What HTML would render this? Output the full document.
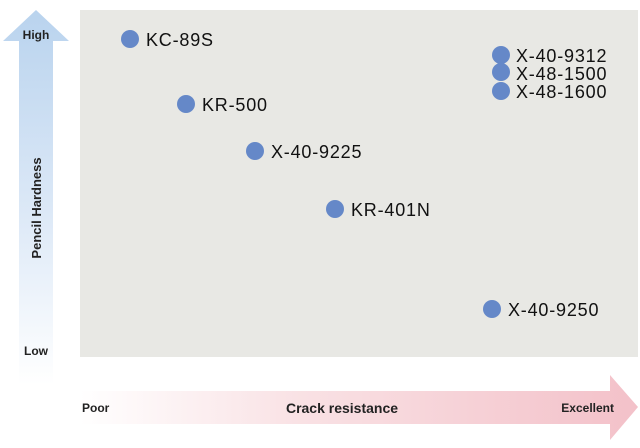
<!DOCTYPE html>
<html><head><meta charset="utf-8"><style>
html,body{margin:0;padding:0;background:#fff;width:640px;height:448px;overflow:hidden}
svg{display:block}
</style></head><body>
<svg width="640" height="448" xmlns="http://www.w3.org/2000/svg" font-family="Liberation Sans, sans-serif">
<defs>
<linearGradient id="gv" x1="0" y1="0" x2="0" y2="1">
<stop offset="0" stop-color="#b9d3ee"/><stop offset="0.55" stop-color="#dde9f7"/><stop offset="1" stop-color="#ffffff"/>
</linearGradient>
<linearGradient id="gh" x1="0" y1="0" x2="1" y2="0">
<stop offset="0" stop-color="#ffffff"/><stop offset="0.4" stop-color="#f9e1e4"/><stop offset="1" stop-color="#f3c1c9"/>
</linearGradient>
</defs>
<rect x="80" y="10" width="558" height="347" fill="#e8e8e4"/>
<path d="M36 10 L69 41 L53 41 L53 385 L19 385 L19 41 L3 41 Z" fill="url(#gv)"/>
<path d="M80 391 L610 391 L610 375 L638 407 L610 440 L610 424 L80 424 Z" fill="url(#gh)"/>
<g font-size="12" fill="#222" font-weight="bold">
<text x="36" y="39" text-anchor="middle">High</text>
<text x="36" y="355" text-anchor="middle">Low</text>
<text x="82" y="412">Poor</text>
<text x="342" y="413" text-anchor="middle" font-size="14">Crack resistance</text>
<text x="614" y="412" text-anchor="end">Excellent</text>
<text transform="translate(41,208) rotate(-90)" text-anchor="middle" font-size="13">Pencil Hardness</text>
</g>
<g fill="#6588c8">
<circle cx="130" cy="39" r="9"/><circle cx="186" cy="104" r="9"/><circle cx="255" cy="151" r="9"/>
<circle cx="335" cy="209" r="9"/><circle cx="501" cy="55" r="9"/><circle cx="501" cy="72" r="9"/>
<circle cx="501" cy="91" r="9"/><circle cx="492" cy="309" r="9"/>
</g>
<g font-size="18" fill="#111" letter-spacing="0.8">
<text x="146" y="46">KC-89S</text>
<text x="202" y="111">KR-500</text>
<text x="271" y="158">X-40-9225</text>
<text x="351" y="216">KR-401N</text>
<text x="516" y="62">X-40-9312</text>
<text x="516" y="80">X-48-1500</text>
<text x="516" y="98">X-48-1600</text>
<text x="508" y="316">X-40-9250</text>
</g>
</svg>
</body></html>
